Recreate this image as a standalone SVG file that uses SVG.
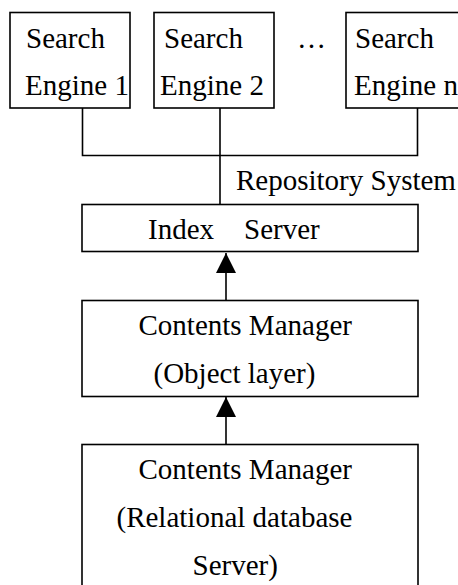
<svg xmlns="http://www.w3.org/2000/svg" width="458" height="585" viewBox="0 0 458 585">
  <style>
    .box { fill: #ffffff; stroke: #000000; stroke-width: 1.6; }
    .wire { fill: none; stroke: #000000; stroke-width: 1.6; }
    text { font-family: "Liberation Serif", "Times New Roman", serif; font-size: 29px; fill: #000000; }
  </style>
  <defs>
    <marker id="arrowhead" markerUnits="userSpaceOnUse" markerWidth="20" markerHeight="20" refX="20" refY="10" orient="auto">
      <path d="M0,0 L20,10 L0,20 Z" fill="#000000"/>
    </marker>
  </defs>

  <rect width="458" height="585" fill="#ffffff"/>

  <!-- connectors -->
  <g id="connectors">
    <path class="wire" d="M82.5,108 V155.5 H417.5 V108"/>
    <path class="wire" d="M220,108 V204.5"/>
    <path class="wire" d="M226,300.5 V253" marker-end="url(#arrowhead)"/>
    <path class="wire" d="M226,444.5 V397" marker-end="url(#arrowhead)"/>
  </g>

  <g id="engine1">
    <rect class="box" x="10" y="12.5" width="120" height="95.5"/>
    <text x="26" y="47.5">Search</text>
    <text x="25" y="95">Engine 1</text>
  </g>

  <g id="engine2">
    <rect class="box" x="154" y="12.5" width="120" height="95.5"/>
    <text x="164" y="47.5">Search</text>
    <text x="160" y="95">Engine 2</text>
  </g>

  <text id="ellipsis" x="297" y="47.5">…</text>

  <g id="engineN">
    <rect class="box" x="346" y="12.5" width="130" height="95.5"/>
    <text x="355" y="47.5">Search</text>
    <text x="354" y="95">Engine n</text>
  </g>

  <text id="repository-label" x="236" y="190">Repository System</text>

  <g id="index-server">
    <rect class="box" x="82" y="204.5" width="336" height="47"/>
    <text y="238.5"><tspan x="148">Index</tspan><tspan x="244">Server</tspan></text>
  </g>

  <g id="contents-object">
    <rect class="box" x="82" y="300.5" width="336" height="96"/>
    <text x="138.5" y="334.5">Contents Manager</text>
    <text x="153.5" y="382.5">(Object layer)</text>
  </g>

  <g id="contents-rdb">
    <rect class="box" x="82" y="444.5" width="336" height="160"/>
    <text x="138.5" y="478.5">Contents Manager</text>
    <text x="116.5" y="526.5">(Relational database</text>
    <text x="192.5" y="574.5">Server)</text>
  </g>
</svg>
